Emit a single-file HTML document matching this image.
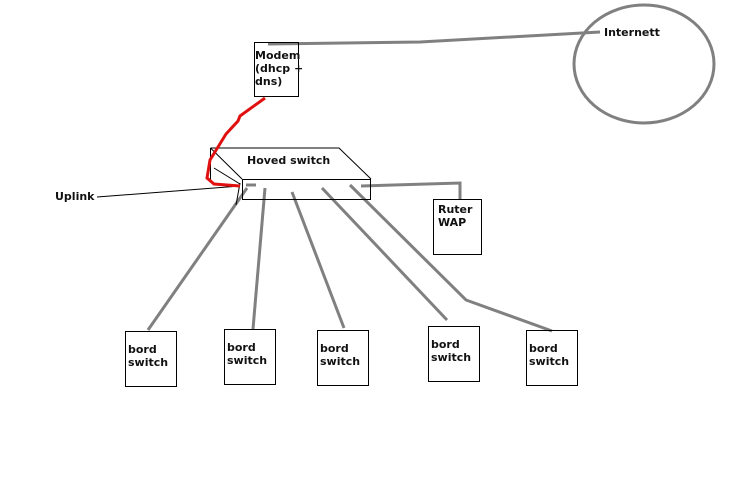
<!DOCTYPE html>
<html><head><style>
body{margin:0;background:#fff}
svg{display:block}
text{font-family:"DejaVu Sans","Liberation Sans",sans-serif;font-weight:bold;font-size:11px;fill:#111}
</style></head><body>
<svg width="745" height="489" viewBox="0 0 745 489">
<rect width="745" height="489" fill="#fff"/>
<g stroke="#808080" stroke-width="3" fill="none">
<ellipse cx="644" cy="64" rx="70" ry="59"/>
<polyline points="268,44 420,42 600,32"/>
<polyline points="361,186 460,183 460,200"/>
<line x1="246" y1="185" x2="256" y2="185"/>
<line x1="247" y1="188" x2="148" y2="330"/>
<line x1="265" y1="188" x2="253" y2="329"/>
<line x1="292" y1="192" x2="344" y2="328"/>
<line x1="322" y1="188" x2="447" y2="320"/>
<polyline points="350,185 466,300 552,331"/>
</g>
<g stroke="#000" stroke-width="1" fill="none">
<rect x="254.5" y="42.5" width="44" height="54"/>
<polyline points="210.5,148 339,148 371,179"/>
<rect x="242.5" y="179.5" width="128" height="20"/>
<line x1="210.5" y1="148" x2="242" y2="179"/>
<line x1="210.5" y1="148" x2="210.5" y2="182"/>
<line x1="214" y1="168" x2="240" y2="184"/>
<line x1="240" y1="183" x2="236" y2="205"/>
<line x1="97" y1="197" x2="240" y2="186"/>
<rect x="433.5" y="199.5" width="48" height="55"/>
<rect x="125.5" y="331.5" width="51" height="55"/>
<rect x="224.5" y="329.5" width="51" height="55"/>
<rect x="317.5" y="330.5" width="51" height="55"/>
<rect x="428.5" y="326.5" width="51" height="55"/>
<rect x="526.5" y="330.5" width="51" height="55"/>
</g>
<path d="M265,98 L240,116 L238,121 L226,134 L210,160 L207,178 L214,184 L240,186" stroke="#e01010" stroke-width="3" fill="none"/>
<text x="604" y="36">Internett</text>
<text x="255" y="59">Modem</text>
<text x="255" y="72">(dhcp +</text>
<text x="255" y="85">dns)</text>
<text x="247" y="164">Hoved switch</text>
<text x="55" y="200">Uplink</text>
<text x="438" y="213">Ruter</text>
<text x="438" y="226">WAP</text>
<text x="128" y="353">bord</text><text x="128" y="366">switch</text>
<text x="227" y="351">bord</text><text x="227" y="364">switch</text>
<text x="320" y="352">bord</text><text x="320" y="365">switch</text>
<text x="431" y="348">bord</text><text x="431" y="361">switch</text>
<text x="529" y="352">bord</text><text x="529" y="365">switch</text>
</svg>
</body></html>
